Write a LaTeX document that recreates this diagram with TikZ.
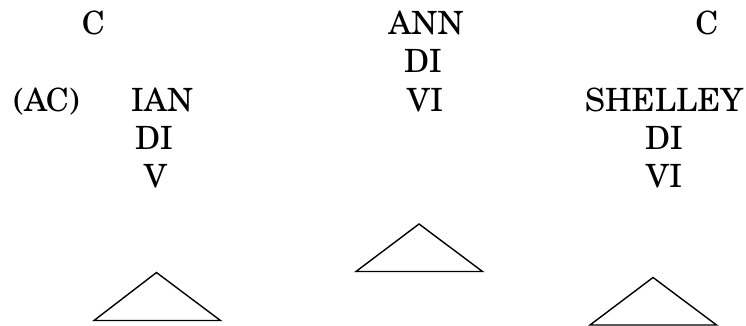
\documentclass[tikz,border=0pt]{standalone}
\usepackage{fontspec}
\setmainfont{texgyreschola-regular.otf}
\begin{document}
\begin{tikzpicture}[x=1pt, y=-1pt]
		\tikzset{
		    word/.style= {anchor=base, inner sep=0pt, font=\fontsize{32}{38}\selectfont},
		    tri/.style= {draw=black, line width=1.4pt, line join=miter},
		}
		\useasboundingbox (0,0) rectangle (746,326);
		
		\node[word] (cl) at (93.5, 35) {C};
		\node[word] (ac) at (46.5, 111) {(AC)};
		\node[word] (ian) at (162, 111) {IAN};
		\node[word] (di1) at (154, 149) {DI};
		\node[word] (v1) at (155.5, 187) {V};
		
		\node[word] (ann) at (426, 35) {ANN};
		\node[word] (di2) at (423, 73) {DI};
		\node[word] (vi2) at (425, 111) {VI};
		
		\node[word] (cr) at (707, 35) {C};
		\node[word] (shelley) at (664, 111) {SHELLEY};
		\node[word] (di3) at (664, 149) {DI};
		\node[word] (vi3) at (664, 187) {VI};
		
		\draw[tri] (156.5, 272.5) -- (94, 320.5) -- (220.5, 320.5) -- cycle;
		\draw[tri] (419, 224) -- (356, 271.5) -- (482.5, 271.5) -- cycle;
		\draw[tri] (653, 277.5) -- (590, 325) -- (716.5, 325) -- cycle;
	\end{tikzpicture}
\end{document}
